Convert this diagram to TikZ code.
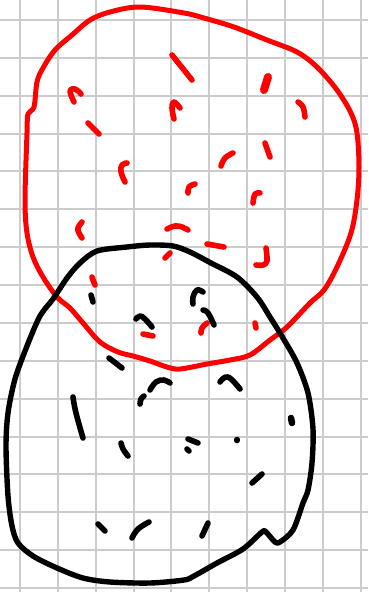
\documentclass[tikz,border=0pt]{standalone}
\definecolor{gridgray}{RGB}{204,204,204}
\definecolor{sketchred}{RGB}{255,0,0}
\begin{document}
\begin{tikzpicture}[x=1pt,y=-1pt,
  gridline/.style={draw=gridgray, line width=2pt},
  redoutline/.style={draw=sketchred, line width=5pt, line cap=round, line join=round},
  blackoutline/.style={draw=black, line width=5.4pt, line cap=round, line join=round},
  reddash/.style={draw=sketchred, line width=5.6pt, line cap=round, line join=round},
  blackdash/.style={draw=black, line width=5.6pt, line cap=round, line join=round}]
\useasboundingbox[fill=white] (0,0) rectangle (368,592);
% grid
\foreach \k in {0,...,9} \draw[gridline] ({20+37.87*\k},0) -- ({20+37.87*\k},592);
\foreach \k in {0,...,15} \draw[gridline] (0,{20+37.87*\k}) -- (368,{20+37.87*\k});
% red blob
\draw[redoutline] plot[smooth cycle, tension=0.55] coordinates {
 (140,7) (184,13) (204,18) (234,27) (267,40) (297,52) (317,67) (337,90) (351,113)
 (357,133) (359,167) (357,200) (351,233) (337,267) (324,290) (310,303) (287,327)
 (270,340) (250,355) (230,360) (207,364) (180,369) (167,367) (150,361) (133,356)
 (118,352) (100,342) (83,323) (70,308) (57,297) (43,277) (33,257) (27,233) (25,200)
 (27,133) (28,114) (34,107) (37,82) (43,68) (55,50) (72,35) (90,20) (110,12)};
% black blob
\draw[blackoutline] plot[smooth cycle, tension=0.5] coordinates {
 (150,245) (173,246) (190,252) (211,263) (237,277) (257,297) (270,317) (283,338)
 (297,363) (308,393) (313,429) (312,463) (308,490) (303,503) (293,530) (280,542)
 (275,542) (266,532) (262,532) (243,549) (217,563) (194,576) (184,580) (150,583)
 (110,582) (83,578) (57,568) (33,556) (18,543) (12,526) (8,496) (6,446) (8,413)
 (15,379) (27,346) (40,316) (53,299) (67,278) (80,263) (97,251) (127,247)};
% red dashes
\draw[reddash] plot[smooth, tension=0.7] coordinates {(74,102) (70,91) (75,89) (81,94)};
\draw[reddash] plot[smooth, tension=0.7] coordinates {(88,123) (92,127) (99,134)};
\draw[reddash] plot[smooth, tension=0.7] coordinates {(127,163) (122,165) (121,172) (125,182)};
\draw[reddash] plot[smooth, tension=0.7] coordinates {(82,222) (78,228) (79,233) (82,238)};
\draw[reddash] plot[smooth, tension=0.7] coordinates {(167,229) (175,226) (182,227) (188,230)};
\draw[reddash] (170,253) -- (165,258);
\draw[reddash] plot[smooth, tension=0.7] coordinates {(92,277) (93,280) (95,285)};
\draw[reddash] (172,55) -- (192,80);
\draw[reddash] plot[smooth, tension=0.7] coordinates {(174,119) (172,108) (174,102) (180,108)};
\draw[reddash, line width=8pt] (268,77) -- (264,90);
\draw[reddash] plot[smooth, tension=0.7] coordinates {(298,102) (303,107) (305,117)};
\draw[reddash] (265,143) -- (270,157);
\draw[reddash] plot[smooth, tension=0.7] coordinates {(233,153) (225,158) (221,166)};
\draw[reddash] plot[smooth, tension=0.7] coordinates {(195,184) (189,187) (188,193)};
\draw[reddash] plot[smooth, tension=0.7] coordinates {(260,193) (255,194) (253,203)};
\draw[reddash] (207,244) -- (224,247);
\draw[reddash] plot[smooth, tension=0.6] coordinates {(266,248) (267,261) (263,265) (256,265)};
\draw[reddash] (143,334) -- (153,336);
\draw[reddash] plot[smooth, tension=0.7] coordinates {(207,323) (202,328) (201,333)};
\draw[reddash] (255,323) -- (256,328);
% black dashes
\draw[blackdash] (91,295) -- (93,302);
\draw[blackdash] plot[smooth, tension=0.7] coordinates {(136,319) (140,316) (145,319) (152,327)};
\draw[blackdash] (109,358) -- (122,368);
\draw[blackdash] plot[smooth, tension=0.7] coordinates {(150,390) (156,382) (164,380) (170,383)};
\draw[blackdash] plot[smooth, tension=0.7] coordinates {(140,404) (141,399) (144,396)};
\draw[blackdash] plot[smooth, tension=0.7] coordinates {(73,397) (76,413) (83,438)};
\draw[blackdash] plot[smooth, tension=0.7] coordinates {(121,443) (123,449) (128,456)};
\draw[blackdash] (188,439) -- (198,443);
\draw[blackdash] (187,449) -- (189,451);
\draw[blackdash] (237,439.5) -- (237,440.5);
\draw[blackdash, line width=6.5pt] (291,418) -- (292,423);
\draw[blackdash] (252,483) -- (262,474);
\draw[blackdash] (202,536) -- (208,523);
\draw[blackdash] (98,524) -- (105,531);
\draw[blackdash] plot[smooth, tension=0.7] coordinates {(132,538) (138,529) (149,522)};
\draw[blackdash] plot[smooth, tension=0.7] coordinates {(203,292) (197,290) (193,297) (193,304)};
\draw[blackdash] plot[smooth, tension=0.7] coordinates {(203,310) (208,313) (214,325)};
\draw[blackdash] plot[smooth, tension=0.7] coordinates {(220,382) (228,377) (240,389)};
\end{tikzpicture}
\end{document}
